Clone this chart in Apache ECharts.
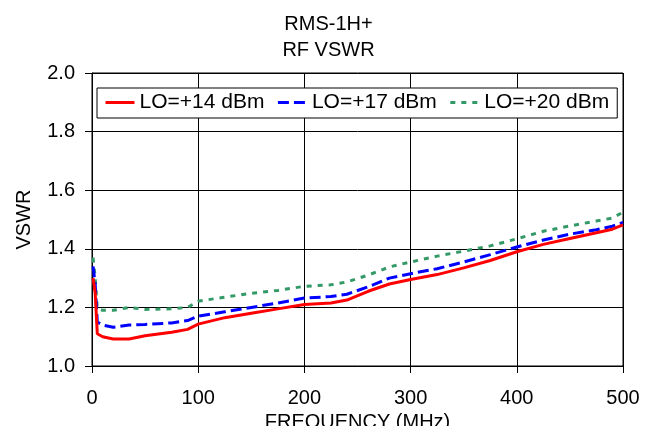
<!DOCTYPE html>
<html>
<head>
<meta charset="utf-8">
<script src="https://cdn.jsdelivr.net/npm/echarts@6/dist/echarts.min.js"></script>
<style>
html,body{margin:0;padding:0;background:#fff;}
#c{width:657px;height:426px;}
</style>
</head>
<body>
<div id="c"></div>
<script>
var freq = [1,3,5,10,20,35,50,75,90,100,125,150,175,200,225,240,260,280,300,325,350,375,400,425,450,475,490,500];
var lo14 = [1.30,1.25,1.11,1.10,1.092,1.092,1.103,1.115,1.125,1.143,1.165,1.18,1.195,1.21,1.215,1.225,1.255,1.28,1.295,1.312,1.335,1.36,1.39,1.415,1.435,1.455,1.467,1.482];
var lo17 = [1.34,1.28,1.15,1.14,1.132,1.14,1.142,1.147,1.155,1.17,1.185,1.20,1.215,1.232,1.237,1.245,1.27,1.30,1.315,1.332,1.355,1.38,1.406,1.43,1.45,1.465,1.477,1.49];
var lo20 = [1.37,1.30,1.196,1.19,1.19,1.20,1.193,1.195,1.20,1.221,1.235,1.248,1.258,1.272,1.277,1.287,1.31,1.338,1.355,1.375,1.392,1.41,1.434,1.46,1.478,1.495,1.505,1.525];
var seriesNames = ['LO=+14 dBm','LO=+17 dBm','LO=+20 dBm'];
var titleText = 'RMS-1H+\nRF VSWR';
var xName = 'FREQUENCY (MHz)';
var yName = 'VSWR';

function pairs(xs, ys){ return xs.map(function(x,i){ return [x, ys[i]]; }); }

var FONT = "'Liberation Sans', Arial, sans-serif";
var chart = echarts.init(document.getElementById('c'), null, {renderer:'canvas'});
chart.setOption({
  animation:false,
  backgroundColor:'#fff',
  title:{
    text:titleText, left:'center', top:6,
    textStyle:{fontFamily:FONT, fontSize:20, fontWeight:'normal', color:'#000', lineHeight:26}
  },
  legend:{
    left:97, top:88,
    padding:[4,8,5,7],
    borderColor:'#000', borderWidth:1, backgroundColor:'#fff',
    itemWidth:29, itemHeight:14, itemGap:12,
    itemStyle:{opacity:0},
    lineStyle:{width:3},
    textStyle:{fontFamily:FONT, fontSize:21, color:'#000'},
    data:seriesNames
  },
  grid:{left:92, right:34, top:73, bottom:60, show:true, borderColor:'#000', borderWidth:1,
        outerBoundsMode:'none', containLabel:false},
  xAxis:{
    type:'value', min:0, max:500, interval:100,
    name:xName, nameLocation:'middle', nameGap:45,
    nameTextStyle:{fontFamily:FONT, fontSize:20, color:'#000'},
    axisLine:{show:true, lineStyle:{color:'#000', width:1}},
    axisTick:{show:true, inside:false, length:7, lineStyle:{color:'#000'}},
    axisLabel:{fontFamily:FONT, fontSize:20, color:'#000', margin:22},
    splitLine:{show:true, lineStyle:{color:'#000', width:1}}
  },
  yAxis:{
    type:'value', min:1, max:2, interval:0.2,
    name:yName, nameLocation:'middle', nameGap:58, nameRotate:90,
    nameTextStyle:{fontFamily:FONT, fontSize:20, color:'#000'},
    axisLine:{show:true, lineStyle:{color:'#000', width:1}},
    axisTick:{show:true, inside:false, length:7, lineStyle:{color:'#000'}},
    axisLabel:{fontFamily:FONT, fontSize:20, color:'#000', margin:17,
      formatter:function(v){ return v.toFixed(1); }},
    splitLine:{show:true, lineStyle:{color:'#000', width:1}}
  },
  series:[
    {name:seriesNames[0], type:'line', symbol:'none', smooth:false, data:pairs(freq, lo14),
     lineStyle:{color:'#FF0000', width:3, type:'solid'}, itemStyle:{color:'#FF0000'}, z:5},
    {name:seriesNames[1], type:'line', symbol:'none', smooth:false, data:pairs(freq, lo17),
     lineStyle:{color:'#0000FF', width:3, type:[11,5]}, itemStyle:{color:'#0000FF'}, z:4},
    {name:seriesNames[2], type:'line', symbol:'none', smooth:false, data:pairs(freq, lo20),
     lineStyle:{color:'#339966', width:3, type:[5,6]}, itemStyle:{color:'#339966'}, z:3}
  ]
});
</script>
</body>
</html>
